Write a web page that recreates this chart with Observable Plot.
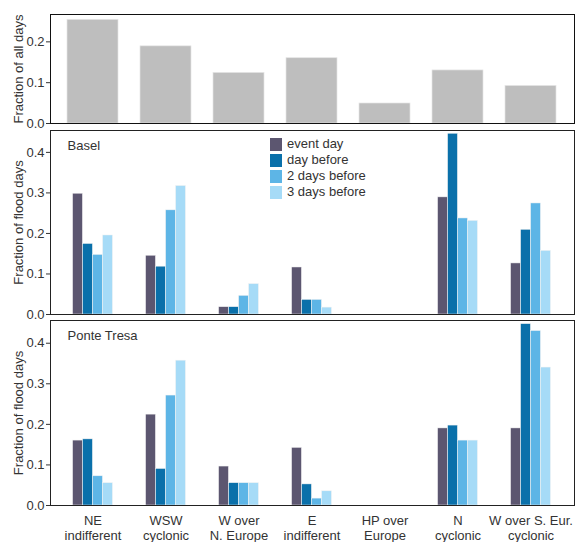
<!DOCTYPE html>
<html>
<head>
<meta charset="utf-8">
<script src="https://cdn.jsdelivr.net/npm/d3@7"></script>
<script src="https://cdn.jsdelivr.net/npm/@observablehq/plot@0.6"></script>
<style>
  html, body { margin: 0; padding: 0; background: #fff; }
  #chart { position: relative; width: 578px; height: 542px; font-family: "Liberation Sans", Arial, sans-serif; }
  #chart svg { display: block; }
  #legend { position: absolute; left: 270px; top: 136px; font-size: 13px; color: #333; line-height: 16px; }
  #legend .row { display: flex; align-items: center; height: 16px; }
  #legend .sw { width: 12px; height: 13px; margin-right: 5px; }
</style>
</head>
<body>
<div id="chart"></div>
<script>
const categories = ["NE\nindifferent", "WSW\ncyclonic", "W over\nN. Europe", "E\nindifferent", "HP over\nEurope", "N\ncyclonic", "W over S. Eur.\ncyclonic"];
const allDays = [0.254, 0.189, 0.124, 0.160, 0.049, 0.130, 0.092];

const series = ["event day", "day before", "2 days before", "3 days before"];
const seriesColors = ["#5c5670", "#0a70aa", "#5db5e6", "#a6dbf7"];

// Basel, one array per series, in category order (HP over Europe: none)
const baselEvent  = [0.298, 0.145, 0.018, 0.116, 0, 0.289, 0.126];
const baselDay1   = [0.174, 0.118, 0.018, 0.036, 0, 0.446, 0.209];
const baselDay2   = [0.147, 0.257, 0.046, 0.036, 0, 0.237, 0.274];
const baselDay3   = [0.195, 0.317, 0.075, 0.017, 0, 0.231, 0.157];

// Ponte Tresa
const ptEvent = [0.160, 0.224, 0.096, 0.142, 0, 0.190, 0.190];
const ptDay1  = [0.163, 0.090, 0.055, 0.052, 0, 0.197, 0.447];
const ptDay2  = [0.072, 0.271, 0.055, 0.017, 0, 0.160, 0.430];
const ptDay3  = [0.055, 0.357, 0.055, 0.035, 0, 0.160, 0.340];

const yTicksTop = [0, 0.1, 0.2];
const yTicksFlood = [0, 0.1, 0.2, 0.3, 0.4];

const W = 578, ML = 50, MR = 4;
const font = "Liberation Sans, Arial, sans-serif";
const xScale = {domain: categories, paddingInner: 0.3, paddingOuter: 0.225};

function styleSvg() {
  return {fontFamily: font, fontSize: "13px", color: "#333", background: "transparent", overflow: "visible"};
}

function yAxis(label, ticks) {
  return [
    Plot.axisY({ticks, tickFormat: d3.format(".1f"), tickSize: 4, tickPadding: 2, fontSize: 13, label: null}),
    Plot.axisY({ticks: [], tickSize: 0, label, labelAnchor: "center", labelOffset: 37, labelArrow: "none", fontSize: 13})
  ];
}

const chart = document.getElementById("chart");

// Panel 1: fraction of all days
const topData = categories.map((c, i) => ({c, v: allDays[i]}));
chart.append(Plot.plot({
  width: W, height: 127,
  marginLeft: ML, marginRight: MR, marginTop: 14, marginBottom: 4,
  style: styleSvg(),
  x: xScale,
  y: {domain: [0, 0.267]},
  marks: [
    Plot.barY(topData, {x: "c", y: "v", fill: "#bebebe", stroke: "#e6e6e6", strokeWidth: 0.7}),
    ...yAxis("Fraction of all days", yTicksTop),
    Plot.axisX({ticks: [], label: null, tickSize: 0}),
    Plot.frame({stroke: "#111", strokeWidth: 1})
  ]
}));

function floodPanel(name, arrays, opts) {
  const offsets = [-15, -5, 5, 15];
  const marks = arrays.map((arr, k) => {
    const data = categories.map((c, i) => ({c, v: arr[i]})).filter(d => d.v > 0);
    return Plot.barY(data, {x: "c", y: "v", fill: seriesColors[k], stroke: "#f2f2f2", strokeWidth: 0.5,
      insetLeft: 20.6, insetRight: 20.6, dx: offsets[k]});
  });
  return Plot.plot({
    width: W, height: opts.height,
    marginLeft: ML, marginRight: MR, marginTop: opts.mt, marginBottom: opts.mb,
    style: styleSvg(),
    x: xScale,
    y: {domain: [0, opts.ymax]},
    marks: [
      ...marks,
      ...yAxis("Fraction of flood days", yTicksFlood),
      opts.xaxis
        ? Plot.axisX({tickSize: 0, tickPadding: 9, label: null, fontSize: 13, lineHeight: 1.15})
        : Plot.axisX({ticks: [], tickSize: 0, label: null}),
      Plot.text([name], {text: d => d, frameAnchor: "top-left", dx: 17, dy: 10, fontSize: 13, fill: "#333", textAnchor: "start", lineAnchor: "top"}),
      Plot.frame({stroke: "#222", strokeWidth: 1})
    ]
  });
}

chart.append(floodPanel("Basel", [baselEvent, baselDay1, baselDay2, baselDay3], {height: 190, mt: 3, mb: 3, ymax: 0.454, xaxis: false}));
chart.append(floodPanel("Ponte Tresa", [ptEvent, ptDay1, ptDay2, ptDay3], {height: 225, mt: 3, mb: 37, ymax: 0.456, xaxis: true}));

// Legend (inside Basel panel)
const legend = document.createElement("div");
legend.id = "legend";
series.forEach((s, k) => {
  const row = document.createElement("div");
  row.className = "row";
  const sw = document.createElement("div");
  sw.className = "sw";
  sw.style.background = seriesColors[k];
  const t = document.createElement("span");
  t.textContent = s;
  row.append(sw, t);
  legend.append(row);
});
chart.append(legend);
</script>
</body>
</html>
